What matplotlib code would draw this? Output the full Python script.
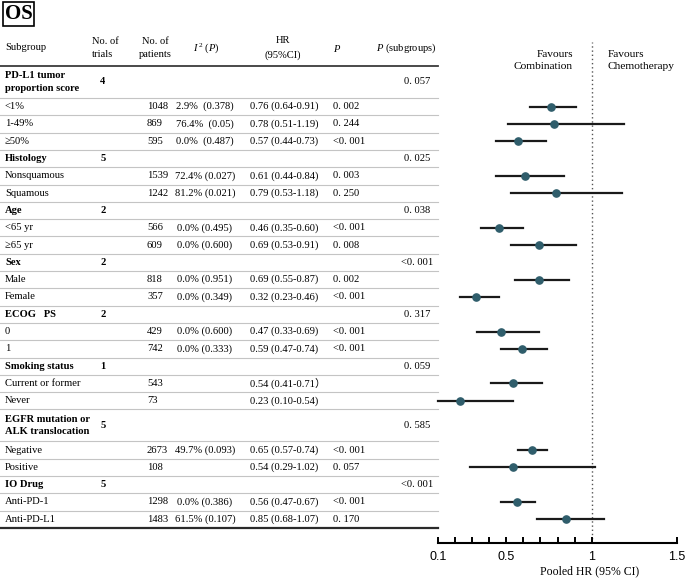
import matplotlib
matplotlib.use("Agg")
import matplotlib.pyplot as plt

plt.rcParams['font.family'] = ['Liberation Serif', 'Noto Sans CJK SC', 'DejaVu Sans']
plt.rcParams['mathtext.fontset'] = 'custom'
plt.rcParams['mathtext.rm'] = 'Liberation Serif'
plt.rcParams['mathtext.it'] = 'Liberation Serif:italic'

# table data
labels = ["PD-L1 tumor\nproportion score", "<1%", "1-49%", "≥50%",
          "Histology", "Nonsquamous", "Squamous",
          "Age", "<65 yr", "≥65 yr",
          "Sex", "Male", "Female",
          "ECOG   PS", "0", "1",
          "Smoking status", "Current or former", "Never",
          "EGFR mutation or\nALK translocation", "Negative", "Positive",
          "IO Drug", "Anti-PD-1", "Anti-PD-L1"]
is_group = [True, False, False, False,
            True, False, False,
            True, False, False,
            True, False, False,
            True, False, False,
            True, False, False,
            True, False, False,
            True, False, False]
trials = ["4", "", "", "", "5", "", "", "2", "", "", "2", "", "",
          "2", "", "", "1", "", "", "5", "", "", "5", "", ""]
patients = ["", "1048", "869", "595", "", "1539", "1242", "", "566", "609",
            "", "818", "357", "", "429", "742", "", "543", "73",
            "", "2673", "108", "", "1298", "1483"]
i2 = ["", "2.9%  (0.378)", "76.4%  (0.05)", "0.0%  (0.487)",
      "", "72.4% (0.027)", "81.2% (0.021)",
      "", "0.0% (0.495)", "0.0% (0.600)",
      "", "0.0% (0.951)", "0.0% (0.349)",
      "", "0.0% (0.600)", "0.0% (0.333)",
      "", "", "",
      "", "49.7% (0.093)", "",
      "", "0.0% (0.386)", "61.5% (0.107)"]
hr_text = ["", "0.76 (0.64-0.91)", "0.78 (0.51-1.19)", "0.57 (0.44-0.73)",
           "", "0.61 (0.44-0.84)", "0.79 (0.53-1.18)",
           "", "0.46 (0.35-0.60)", "0.69 (0.53-0.91)",
           "", "0.69 (0.55-0.87)", "0.32 (0.23-0.46)",
           "", "0.47 (0.33-0.69)", "0.59 (0.47-0.74)",
           "", "0.54 (0.41-0.71）", "0.23 (0.10-0.54)",
           "", "0.65 (0.57-0.74)", "0.54 (0.29-1.02)",
           "", "0.56 (0.47-0.67)", "0.85 (0.68-1.07)"]
p_text = ["", "0. 002", "0. 244", "<0. 001",
          "", "0. 003", "0. 250",
          "", "<0. 001", "0. 008",
          "", "0. 002", "<0. 001",
          "", "<0. 001", "<0. 001",
          "", "", "",
          "", "<0. 001", "0. 057",
          "", "<0. 001", "0. 170"]
p_sub = ["0. 057", "", "", "", "0. 025", "", "", "0. 038", "", "",
         "<0. 001", "", "", "0. 317", "", "", "0. 059", "", "",
         "0. 585", "", "", "<0. 001", "", ""]

# forest values (None for group rows)
hr = [None, 0.76, 0.78, 0.57, None, 0.61, 0.79, None, 0.46, 0.69,
      None, 0.69, 0.32, None, 0.47, 0.59, None, 0.54, 0.23,
      None, 0.65, 0.54, None, 0.56, 0.85]
lo = [None, 0.64, 0.51, 0.44, None, 0.44, 0.53, None, 0.35, 0.53,
      None, 0.55, 0.23, None, 0.33, 0.47, None, 0.41, 0.10,
      None, 0.57, 0.29, None, 0.47, 0.68]
hi = [None, 0.91, 1.19, 0.73, None, 0.84, 1.18, None, 0.60, 0.91,
      None, 0.87, 0.46, None, 0.69, 0.74, None, 0.71, 0.54,
      None, 0.74, 1.02, None, 0.67, 1.07]

W, H = 685, 586
fig = plt.figure(figsize=(W / 100, H / 100), dpi=100)

# table layer in pixel coords
tab = fig.add_axes([0, 0, 1, 1])
tab.set_xlim(0, W)
tab.set_ylim(H, 0)
tab.axis('off')

fs = 7.6
table_right = 438

# OS box
tab.text(5, 14, "OS", fontsize=15, fontweight='bold', va='center', ha='left',
         bbox=dict(boxstyle='square,pad=0.08', fc='white', ec='black', lw=1.2))

# headers
tab.text(5, 48, "Subgroup", fontsize=fs, va='center', ha='left')
tab.text(92, 48, "No. of\ntrials", fontsize=fs, va='center', ha='left', linespacing=1.6)
tab.text(155, 48, "No. of\npatients", fontsize=fs, va='center', ha='center', linespacing=1.6)
tab.text(206, 48, r"$I^{\,2}$ ($P$)", fontsize=fs, va='center', ha='center')
tab.text(283, 48, "HR\n(95%CI)", fontsize=fs, va='center', ha='center', linespacing=1.6)
tab.text(337, 48, r"$P$", fontsize=fs, va='center', ha='center')
tab.text(406, 48, r"$P$ (subgroups)", fontsize=fs, va='center', ha='center')
tab.plot([0, table_right], [66, 66], color='#3a3a3a', lw=1.3)

row_h = 17.3
double_h = 32
y = 66
centers = []
for i, lab in enumerate(labels):
    h = double_h if "\n" in lab else row_h
    c = y + h / 2
    centers.append(c)
    tab.text(5, c, lab, fontsize=fs, va='center', ha='left', linespacing=1.5,
             fontweight='bold' if is_group[i] else 'normal')
    if trials[i]:
        tab.text(103, c, trials[i], fontsize=fs, va='center', ha='center', fontweight='bold')
    if patients[i]:
        tab.text(147, c, patients[i], fontsize=fs, va='center', ha='left')
    if i2[i]:
        tab.text(205, c, i2[i], fontsize=fs, va='center', ha='center')
    if hr_text[i]:
        tab.text(250, c, hr_text[i], fontsize=fs, va='center', ha='left')
    if p_text[i]:
        tab.text(333, c, p_text[i], fontsize=fs, va='center', ha='left')
    if p_sub[i]:
        tab.text(417, c, p_sub[i], fontsize=fs, va='center', ha='center')
    y += h
    if i < len(labels) - 1:
        tab.plot([0, table_right], [y, y], color='#c4c4c4', lw=0.8)
    else:
        tab.plot([0, table_right], [y, y], color='#2a2a2a', lw=1.6)

# forest plot
axis_y = 543
top_y = 42
scale = (677 - 438) / 1.4
left_px = 430
ax = fig.add_axes([left_px / W, (H - axis_y) / H, (W - left_px) / W, (axis_y - top_y) / H])
ax.set_facecolor('none')
ax.set_xlim(0.1 - 8 / scale, 1.5 + 8 / scale)
ax.set_ylim(axis_y, top_y)
for sp in ['top', 'right', 'left']:
    ax.spines[sp].set_visible(False)
ax.spines['bottom'].set_bounds(0.1, 1.5)
ax.spines['bottom'].set_linewidth(1.5)
ax.set_yticks([])
ax.set_xticks([0.1, 0.5, 1.0, 1.5])
ax.set_xticklabels(["0.1", "0.5", "1", "1.5"], family='Liberation Sans', fontsize=9)
ax.set_xticks([0.2, 0.3, 0.4, 0.6, 0.7, 0.8, 0.9], minor=True)
ax.tick_params(axis='x', which='both', direction='in', length=4.5, width=1.4, pad=6)

ax.axvline(1.0, color='#555555', lw=1.0, ls=(0, (1, 2)), zorder=1)

for i in range(len(labels)):
    if hr[i] is None:
        continue
    ax.plot([lo[i], hi[i]], [centers[i], centers[i]], color='#1a1a1a', lw=1.6, zorder=2)
    ax.plot(hr[i], centers[i], 'o', color='#2f5d6b', markersize=5.2, zorder=3)

ax.set_xlabel("Pooled HR (95% CI)", fontsize=8.5)
ax.xaxis.set_label_coords((590 - left_px) / (W - left_px), -0.045)

tab.text(573, 60.5, "Favours\nCombination", fontsize=8.2, ha='right', va='center',
         multialignment='right', linespacing=1.5)
tab.text(608, 60.5, "Favours\nChemotherapy", fontsize=8.2, ha='left', va='center',
         multialignment='left', linespacing=1.5)

plt.savefig('out.png', dpi=100)
